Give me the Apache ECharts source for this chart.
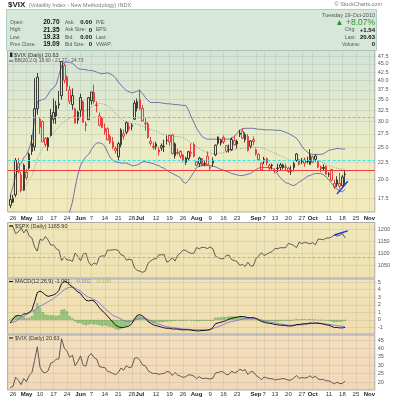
<!DOCTYPE html>
<html><head><meta charset="utf-8">
<script src="https://cdn.jsdelivr.net/npm/echarts@6/dist/echarts.min.js"></script>
<style>html,body{margin:0;padding:0;background:#fff;overflow:hidden}#c{width:400px;height:400px}</style>
</head><body><div id="c"></div>
<script>
// ---------- trading-day categories (Apr 22 .. Nov 3, 2010) ----------
const aprDays=[22,23,26,27,28,29,30];
const mayDays=[3,4,5,6,7,10,11,12,13,14,17,18,19,20,21,24,25,26,27,28];
const junDays=[1,2,3,4,7,8,9,10,11,14,15,16,17,18,21,22,23,24,25,28,29,30];
const julDays=[1,2,6,7,8,9,12,13,14,15,16,19,20,21,22,23,26,27,28,29,30];
const augDays=[2,3,4,5,6,9,10,11,12,13,16,17,18,19,20,23,24,25,26,27,30,31];
const sepDays=[1,2,3,7,8,9,10,13,14,15,16,17,20,21,22,23,24,27,28,29,30];
const octDays=[1,4,5,6,7,8,11,12,13,14,15,18,19,20,21,22,25,26,27,28,29];
const novDays=[1,2,3];
const firstDataDay='04-23';

// ---------- x tick labels ----------
const xTickDates=['04-26','05-03','05-10','05-17','05-24','06-01','06-07','06-14','06-21','06-28','07-01','07-12','07-19','07-26','08-02','08-09','08-16','08-23','09-01','09-07','09-13','09-20','09-27','10-01','10-11','10-18','10-25','11-01'];
const xTickLabels=['26','May','10','17','24','Jun','7','14','21','28','Jul','12','19','26','Aug','9','16','23','Sep','7','13','20','27','Oct','11','18','25','Nov'];
const monthNames=['May','Jun','Jul','Aug','Sep','Oct','Nov'];

// ---------- $VIX daily OHLC (Apr 23 .. Oct 19) ----------
const vixOpen=[17.3,17.0,17.9,22.3,20.6,18.5,
21.0,21.6,24.3,25.1,32.9,30.5,30.0,26.6,25.1,27.2,30.5,31.2,34.0,36.0,44.5,41.0,37.5,33.8,32.8,30.3,
32.5,34.5,29.2,30.4,34.7,36.8,33.6,31.2,30.7,27.9,28.5,27.0,26.0,24.8,23.4,25.5,27.5,27.8,28.9,29.2,30.5,33.0,
35.0,32.9,29.5,29.5,26.1,25.2,25.6,24.2,25.3,25.2,26.3,27.2,27.3,23.6,24.0,24.3,23.7,22.5,23.1,24.0,25.5,
22.6,22.3,23.1,22.3,23.5,21.6,22.8,23.7,26.9,25.8,26.8,25.3,24.6,24.6,26.2,25.6,27.4,28.0,26.4,27.0,25.2,26.4,
24.6,23.8,22.4,22.7,23.1,21.6,22.1,21.2,21.6,22.1,21.7,21.8,21.6,21.1,21.7,22.8,22.9,22.6,22.9,22.6,22.2,
23.4,23.0,22.6,21.8,21.7,21.9,20.7,21.4,19.4,19.3,19.4,20.3,20.70];
const vixHigh=[17.9,17.9,23.2,23.2,21.1,22.3,
21.5,24.1,27.3,40.7,42.2,31.0,30.2,26.9,26.9,32.8,35.3,34.7,37.2,45.9,45.2,41.5,38.6,37.9,33.1,32.4,
36.5,34.8,30.0,35.6,37.0,38.9,34.6,32.0,31.0,29.6,28.8,27.4,26.9,25.2,26.0,28.6,28.4,30.0,29.7,29.6,34.8,35.3,
37.6,33.7,30.8,29.9,26.9,25.9,26.0,25.1,25.7,26.4,27.2,27.3,27.5,25.9,24.8,24.5,23.8,23.4,24.4,25.7,25.9,
22.7,23.4,23.2,22.8,24.3,22.0,23.3,25.5,27.0,26.5,27.2,25.4,25.5,26.8,27.2,26.4,28.3,28.6,27.8,27.5,26.3,27.0,
24.8,24.0,22.5,23.4,23.3,22.3,22.3,21.6,22.3,22.4,22.3,22.3,21.8,22.0,22.6,24.0,23.0,23.2,23.3,23.4,24.7,
23.6,23.8,22.7,22.0,22.2,22.0,21.0,21.5,19.9,20.4,20.9,20.6,21.35];
const vixLow=[16.3,16.9,17.6,20.8,18.2,18.4,
19.9,21.4,23.7,24.4,31.5,27.5,26.0,25.1,24.4,27.0,29.6,29.5,32.8,35.0,39.3,37.2,33.9,32.6,29.6,29.5,
31.0,29.8,28.0,30.3,33.8,34.0,32.0,29.0,28.6,27.3,26.3,25.6,24.7,23.9,22.7,25.0,26.4,27.4,28.0,28.2,30.3,32.2,
32.5,30.0,28.1,26.6,25.3,24.6,24.6,23.6,24.4,24.2,25.5,25.3,23.8,23.1,23.7,23.1,22.6,22.1,22.8,23.4,23.3,
21.9,21.8,21.9,21.9,22.0,21.3,21.8,23.5,25.4,25.3,25.6,24.1,24.1,24.4,25.3,24.8,26.9,26.5,25.9,24.3,24.8,25.4,
23.6,22.7,21.2,22.2,22.0,21.3,21.4,20.8,21.0,21.3,21.4,21.3,20.9,20.6,21.1,22.6,22.0,22.2,21.8,22.3,22.1,
22.4,22.6,21.6,21.0,21.2,20.6,20.3,19.7,18.6,18.9,18.7,19.0,19.33];
const vixClose=[16.62,17.47,22.81,21.08,18.44,22.05,
20.19,23.84,25.66,32.80,40.95,28.84,26.00,25.52,26.68,31.24,31.96,33.55,33.74,45.79,40.10,38.32,34.61,36.00,29.68,32.07,
35.54,29.86,29.46,35.48,36.93,34.51,33.70,29.21,28.79,28.58,26.36,25.87,25.05,24.46,25.66,28.28,27.05,29.74,28.53,29.00,34.13,34.54,
32.86,30.12,29.65,26.84,25.71,24.98,25.16,24.56,24.89,25.14,26.25,25.97,23.93,25.64,24.13,23.47,22.73,23.19,24.25,24.13,23.50,
22.01,23.19,22.01,22.21,22.14,21.74,22.37,25.39,25.73,26.24,25.99,24.33,24.59,26.44,25.49,26.10,27.66,26.70,27.37,24.45,26.17,26.05,
23.89,22.93,21.31,23.00,22.40,21.99,21.99,21.21,21.56,21.72,22.10,21.66,21.09,21.22,22.30,23.87,22.21,22.64,22.37,22.64,23.70,
22.50,23.53,21.76,21.49,21.56,20.71,20.71,19.85,18.93,19.88,19.03,19.09,20.63];

// ---------- Bollinger Bands (20,2.0) ----------
const bbUpper=[17.8,19.0,20.6,21.8,22.3,23.3,23.7,24.8,26.5,30.5,34.5,
34.8,35.0,35.3,36.3,37.5,38.0,39.0,41.5,44.5,45.5,
45.6,45.5,45.2,44.5,43.6,43.4,43.3,43.2,43.0,43.0,
42.8,42.5,42.2,42.0,42.1,42.3,42.0,41.5,40.8,39.6,
38.8,38.0,37.3,37.0,36.7,36.9,37.2,37.3,36.5,35.6,
34.8,34.3,34.3,34.3,34.3,34.2,34.1,34.0,34.0,33.9,
33.8,33.8,33.7,33.6,33.6,32.5,31.0,29.8,28.6,27.8,
27.0,26.7,26.5,26.5,26.5,26.5,26.5,26.5,26.5,26.5,
26.5,26.7,27.0,27.6,28.2,28.5,28.6,28.6,28.6,28.6,
28.5,28.4,28.4,28.3,28.3,28.3,28.3,28.2,28.2,28.2,
28.0,27.8,27.6,27.3,27.0,26.7,26.0,25.2,24.6,24.2,
23.9,23.8,23.8,23.8,23.8,23.9,24.2,24.5,24.6,24.7,
24.8,24.8,24.7,24.73];
const bbMid=[17.6,17.8,18.1,18.4,18.6,19.0,19.3,19.9,20.5,21.6,23.1,
24.1,24.9,25.6,26.4,27.1,27.7,28.3,28.9,29.6,30.0,
30.4,30.7,31.0,31.2,31.5,32.0,32.2,32.4,32.7,33.2,
33.6,34.0,34.1,34.0,33.8,33.5,33.0,32.4,31.8,31.1,
30.6,30.2,30.0,29.8,29.6,29.5,29.4,29.2,29.0,28.8,
28.6,28.4,28.2,28.0,27.8,27.5,27.4,27.3,27.2,27.1,
27.0,27.0,26.9,26.8,26.5,26.1,25.8,25.5,25.1,24.8,
24.5,24.3,24.1,24.0,23.9,23.9,24.0,24.0,24.1,24.2,
24.3,24.5,24.6,24.7,24.8,24.8,24.9,24.9,25.0,25.0,
25.0,25.0,24.9,24.8,24.6,24.4,24.2,24.0,23.8,23.6,
23.4,23.2,23.0,22.8,22.8,22.8,22.8,22.8,22.8,22.8,
22.8,22.8,22.8,22.7,22.6,22.4,22.2,22.0,21.9,21.7,
21.6,21.5,21.4,21.27];
const bbLower=[15.4,15.3,14.9,14.6,14.7,14.3,14.5,14.2,13.6,12.0,11.0,
11.5,11.8,12.0,12.1,12.2,12.4,12.6,12.8,13.0,13.4,
14.2,15.9,17.0,18.8,20.6,22.0,22.8,23.4,23.8,24.6,
25.3,25.8,25.8,25.7,25.2,24.2,23.3,22.8,22.6,22.5,
22.4,22.4,22.4,22.2,22.0,22.0,22.1,22.3,22.6,22.6,
22.5,22.4,22.3,22.1,22.0,21.7,21.6,21.3,21.0,20.8,
20.6,20.4,20.2,19.6,19.4,19.8,20.4,21.0,21.7,21.9,
22.0,22.0,22.0,22.0,21.9,21.8,21.6,21.4,21.3,21.1,
21.0,20.8,20.7,20.6,20.5,20.5,20.6,20.7,20.8,21.1,
21.4,21.6,21.7,21.7,21.7,21.7,21.6,21.3,20.7,20.2,
19.8,19.5,19.4,19.2,19.1,19.3,19.6,19.8,20.1,20.4,
20.5,20.7,20.8,20.8,20.8,20.6,20.3,19.9,19.4,19.0,
18.6,18.4,18.3,18.60];

// ---------- $SPX daily close ----------
const spxClose=[1217.28,1212.05,1183.71,1191.36,1206.78,1186.69,
1202.26,1173.60,1165.90,1128.15,1110.88,1159.73,1155.79,1171.67,1157.44,1135.68,1136.94,1120.80,1115.05,1071.59,1087.69,1073.65,1074.03,1067.95,1103.06,1089.41,
1070.71,1098.38,1102.83,1064.88,1050.47,1062.00,1055.69,1086.84,1091.60,1089.63,1115.23,1114.61,1116.04,1117.51,1113.20,1095.31,1092.04,1073.69,1076.76,1074.57,1041.24,1030.71,
1027.37,1022.58,1028.06,1060.27,1070.25,1077.96,1078.75,1095.34,1095.17,1096.48,1064.88,1071.25,1083.48,1069.59,1093.67,1102.66,1115.01,1113.84,1106.13,1101.53,1101.60,
1125.86,1120.46,1127.24,1125.81,1121.64,1127.79,1121.06,1089.47,1083.61,1079.25,1079.38,1092.54,1094.16,1075.63,1071.69,1067.36,1051.87,1055.33,1047.22,1064.59,1048.92,1049.33,
1080.29,1090.10,1104.51,1091.84,1098.87,1104.18,1109.55,1121.90,1121.10,1125.07,1124.66,1125.59,1142.71,1139.78,1134.28,1124.83,1148.67,1142.16,1147.70,1144.73,1141.20,
1146.24,1137.03,1160.75,1159.97,1158.06,1165.15,1165.32,1169.77,1178.10,1173.81,1176.19,1184.71,1165.90];

// ---------- MACD(12,26,9) ----------
const macdLine=[-0.4,0.1,0.5,0.6,0.5,0.8,0.8,1.0,1.3,2.4,3.6,
3.8,3.6,3.3,3.1,3.2,3.3,3.5,3.9,4.8,5.1,
5.0,4.6,4.4,4.0,3.7,3.5,3.0,2.6,2.5,2.6,
2.5,2.1,1.6,1.2,0.9,0.5,0.1,-0.3,-0.7,-0.9,
-1.0,-1.0,-0.9,-0.8,-0.5,0.1,0.6,0.7,0.5,0.2,
-0.2,-0.45,-0.65,-0.75,-0.85,-0.95,-1.05,-1.1,-1.1,-1.2,
-1.2,-1.2,-1.3,-1.3,-1.3,-1.3,-1.35,-1.4,-1.45,-1.45,
-1.4,-1.4,-1.35,-1.3,-1.0,-0.5,-0.4,-0.3,-0.2,-0.1,
0.1,0.2,0.3,0.35,0.45,0.45,0.4,0.3,0.3,0.3,
0.2,0.0,-0.2,-0.3,-0.4,-0.45,-0.5,-0.6,-0.65,-0.7,
-0.7,-0.75,-0.8,-0.8,-0.75,-0.6,-0.6,-0.55,-0.5,-0.5,
-0.4,-0.45,-0.4,-0.45,-0.5,-0.55,-0.65,-0.7,-0.85,-1.0,
-1.0,-1.05,-1.05,-1.001];
const macdSignal=[-0.4,-0.3,-0.2,0.1,0.3,0.5,0.7,0.9,1.1,1.3,1.6,
1.8,2.0,2.2,2.4,2.6,2.8,3.1,3.4,3.7,4.0,
4.2,4.3,4.3,4.2,4.0,3.8,3.5,3.2,3.0,2.9,
2.7,2.5,2.2,1.9,1.5,1.2,0.9,0.6,0.45,0.3,
0.1,-0.1,-0.2,-0.2,-0.15,-0.05,0.1,0.2,0.3,0.2,
0.05,-0.1,-0.3,-0.45,-0.55,-0.65,-0.8,-0.9,-0.95,-1.0,
-1.05,-1.1,-1.15,-1.2,-1.2,-1.25,-1.25,-1.3,-1.3,-1.3,
-1.3,-1.3,-1.28,-1.25,-1.15,-1.0,-0.9,-0.75,-0.6,-0.45,
-0.3,-0.2,-0.15,-0.05,0.0,0.1,0.15,0.2,0.2,0.2,
0.15,0.1,0.0,-0.1,-0.2,-0.3,-0.35,-0.4,-0.45,-0.55,
-0.6,-0.65,-0.7,-0.7,-0.7,-0.7,-0.65,-0.65,-0.6,-0.55,
-0.5,-0.45,-0.45,-0.4,-0.45,-0.5,-0.55,-0.6,-0.65,-0.7,
-0.75,-0.8,-0.85,-0.902];
const macdHist=[0.0,0.3,0.6,0.5,0.3,0.4,0.2,0.3,0.5,1.3,2.2,
1.6,1.0,0.7,0.6,0.6,0.6,0.5,0.6,1.3,1.4,
1.1,0.5,0.2,-0.2,-0.4,-0.4,-0.6,-0.7,-0.6,-0.5,
-0.6,-0.6,-0.7,-0.8,-0.7,-0.8,-0.9,-1.0,-1.2,-1.3,
-1.2,-1.0,-0.8,-0.6,-0.3,0.2,0.5,0.5,0.3,0.1,
-0.2,-0.3,-0.4,-0.3,-0.3,-0.3,-0.25,-0.2,-0.15,-0.15,
-0.1,-0.1,-0.1,-0.1,-0.1,-0.05,-0.1,-0.1,-0.15,-0.15,
-0.1,-0.1,-0.1,-0.1,-0.1,0.3,0.3,0.35,0.4,0.35,
0.45,0.45,0.45,0.4,0.45,0.35,0.3,0.1,0.1,0.1,
0.05,-0.1,-0.2,-0.2,-0.2,-0.15,-0.15,-0.2,-0.2,-0.15,
-0.1,-0.1,-0.1,-0.1,-0.05,0.1,0.05,0.1,0.1,0.05,
0.1,0.0,0.05,-0.05,-0.05,-0.05,-0.1,-0.1,-0.2,-0.3,
-0.25,-0.25,-0.2,-0.100];

// ---------- axis ticks & reference levels ----------
const vixTicks=[17.5,20,22.5,25,27.5,30,32.5,35,37.5,40,42.5,45,47.5];
const spxTicks=[1050,1100,1150,1200];
const macdTicks=[-1,0,1,2,3,4,5];
const vixLineTicks=[20,25,30,35,40,45];
const vixCyanLevels=[31.0,22.9];
const vixRedLevel=21.3;
const spxCyanLevel=1085;
const vixTrend=[['10-14',18.0],['10-20',19.7]];
const spxTrend=[['10-13',1178],['10-20',1195]];

// ================= build =================
const categories=[];
[['04',aprDays],['05',mayDays],['06',junDays],['07',julDays],['08',augDays],['09',sepDays],['10',octDays],['11',novDays]]
  .forEach(([m,ds])=>ds.forEach(d=>categories.push(m+'-'+String(d).padStart(2,'0'))));
const OFF=categories.indexOf(firstDataDay);
const pad=a=>Array(OFF).fill('-').concat(a);
const labelMap={};xTickDates.forEach((d,i)=>labelMap[d]=xTickLabels[i]);
const tickIdx=new Set(xTickDates.map(d=>categories.indexOf(d)));

const FONT='"Liberation Sans", Arial, sans-serif';
const RED='#e8161c', BLK='#111';

const candleData=pad(vixClose.map((c,i)=>{
  const col=(i===0||c>=vixClose[i-1])?BLK:RED;
  return {value:[vixOpen[i],c,vixLow[i],vixHigh[i]],
    itemStyle:{color:'rgba(255,255,255,0)',borderColor:col,color0:col,borderColor0:col}};
}));

const grids=[
  {top:50.5,height:161.5,bg:[['0','#d3e4d8'],['0.55','#e9ecc8'],['1','#f3e9b8']]},
  {top:222.5,height:55.5,bg:[['0','#f0e6ba'],['1','#efe2b2']]},
  {top:279,height:55,bg:[['0','#f2e4b8'],['1','#f1ddb0']]},
  {top:335,height:55,bg:[['0','#f4dec0'],['1','#f2d8b8']]}
].map(g=>({left:7.6,right:25.2,top:g.top,height:g.height,show:true,borderColor:'#9a9a9a',borderWidth:0.8,
  backgroundColor:{type:'linear',x:0,y:0,x2:0,y2:1,colorStops:g.bg.map(s=>({offset:+s[0],color:s[1]}))}}));

const xLabel={show:true,interval:(i)=>tickIdx.has(i),fontSize:6,color:'#333',fontFamily:FONT,margin:3,
  formatter:v=>{const t=labelMap[v]||'';return monthNames.includes(t)?'{m|'+t+'}':t;},
  rich:{m:{fontWeight:'bold',fontSize:6,color:'#222',fontFamily:FONT}}};
const xAxes=[0,1,2,3].map(k=>({type:'category',gridIndex:k,data:categories,boundaryGap:false,
  axisLine:{show:false},axisTick:{show:false},
  axisLabel:(k===0||k===3)?Object.assign({},xLabel,{margin:k===0?3:1.5}):{show:false},
  splitLine:{show:true,interval:(i)=>tickIdx.has(i),lineStyle:{color:'rgba(110,120,110,0.22)',width:0.6}}}));
const hiddenY={axisLabel:{show:false},axisLine:{show:false},axisTick:{show:false},splitLine:{show:false}};
const yAxes=[
  Object.assign({type:'log',logBase:10,gridIndex:0,min:15.86,max:49.48},hiddenY),
  Object.assign({type:'value',gridIndex:1,min:999,max:1230},hiddenY),
  Object.assign({type:'value',gridIndex:2,min:-1.86,max:5.4},hiddenY),
  Object.assign({type:'value',gridIndex:3,min:15.24,max:47.98},hiddenY)
];

function tickSeries(k,ticks,fmt,host){
  return {type:'line',xAxisIndex:k,yAxisIndex:k,data:pad(host),z:1,clip:false,silent:true,symbol:'none',
    lineStyle:{opacity:0},
    markLine:{silent:true,symbol:['none','none'],animation:false,
      lineStyle:{color:'rgba(110,120,110,0.25)',width:0.6,type:'solid'},
      label:{show:true,position:'end',formatter:'{b}',fontSize:5.5,color:'#555',fontFamily:FONT,distance:3},
      data:ticks.map(v=>({yAxis:v,name:fmt(v)}))}};
}
function refSeries(k,host,lines){
  return {type:'line',xAxisIndex:k,yAxisIndex:k,data:pad(host),z:5,clip:false,silent:true,symbol:'none',
    lineStyle:{opacity:0},
    markLine:{silent:true,symbol:['none','none'],animation:false,label:{show:false},data:lines}};
}
const cyan={color:'#35e0e6',width:1,type:[3,2]};
const series=[
  tickSeries(0,vixTicks,v=>v.toFixed(1),bbMid),
  tickSeries(1,spxTicks,v=>String(v),spxClose),
  tickSeries(2,macdTicks,v=>String(v),macdLine),
  tickSeries(3,vixLineTicks,v=>String(v),vixClose),
  {type:'line',xAxisIndex:0,yAxisIndex:0,data:pad(bbUpper),symbol:'none',lineStyle:{color:'#6464a8',width:0.9},z:2},
  {type:'line',xAxisIndex:0,yAxisIndex:0,data:pad(bbLower),symbol:'none',lineStyle:{color:'#6464a8',width:0.9},z:2,clip:true},
  {type:'line',xAxisIndex:0,yAxisIndex:0,data:pad(bbMid),symbol:'none',lineStyle:{color:'#8a8a8a',width:0.9,type:[1,1.5]},z:2},
  {type:'candlestick',xAxisIndex:0,yAxisIndex:0,data:candleData,barWidth:2,z:3,itemStyle:{borderWidth:0.8}},
  refSeries(0,bbMid,[
    ...vixCyanLevels.map(v=>({yAxis:v,lineStyle:cyan})),
    {yAxis:vixRedLevel,lineStyle:{color:'#f03c3c',width:1.2,type:'solid'}},
    [{coord:vixTrend[0]},{coord:vixTrend[1],lineStyle:{color:'#1f2ff0',width:1.3,type:'solid'}}]
  ]),
  {type:'line',xAxisIndex:1,yAxisIndex:1,data:pad(spxClose),symbol:'none',lineStyle:{color:'#3a3a3a',width:0.8},z:3},
  refSeries(1,spxClose,[
    {yAxis:spxCyanLevel,lineStyle:cyan},
    [{coord:spxTrend[0]},{coord:spxTrend[1],lineStyle:{color:'#1f2ff0',width:1.4,type:'solid'}}]
  ]),
  {type:'bar',xAxisIndex:2,yAxisIndex:2,data:pad(macdHist),barWidth:2.2,z:2,
    itemStyle:{color:'#9ccf82',borderColor:'#5a9a48',borderWidth:0.4}},
  {type:'line',xAxisIndex:2,yAxisIndex:2,data:pad(macdSignal),symbol:'none',lineStyle:{color:'#7a72e0',width:0.9},z:3},
  {type:'line',xAxisIndex:2,yAxisIndex:2,data:pad(macdLine),symbol:'none',lineStyle:{color:'#111',width:1},z:4},
  {type:'line',xAxisIndex:3,yAxisIndex:3,data:pad(vixClose),symbol:'none',lineStyle:{color:'#3a3a3a',width:0.8},z:3}
];

// ---------- decorative texts ----------
function T(x,y,text,size,fill,o){o=o||{};
  return {type:'text',x:x,y:y,silent:true,z:100,style:{text:text,fill:fill,
    font:(o.bold?'bold ':'')+size+'px '+FONT,textAlign:o.align||'left',textVerticalAlign:'middle'}};}
function R(text,x,y,rich){return {type:'text',x:x,y:y,silent:true,z:100,style:{text:text,textVerticalAlign:'middle',rich:rich}};}
function swatch(x,y,color){return {type:'line',silent:true,z:100,shape:{x1:x,y1:y,x2:x+4,y2:y},style:{stroke:color,lineWidth:1.2}};}
const rs=(size,fill,bold)=>({fontSize:size,fontFamily:FONT,fontWeight:bold?'bold':'normal',fill:fill,color:fill});
const LS=5, VS=6.5, VS2=6;

const graphics=[
  {type:'rect',silent:true,z:90,shape:{x:6.5,y:9.5,width:370,height:41},style:{fill:'#d5e8d9',stroke:'#a9c3b2',lineWidth:0.8}},
  R('{a|$VIX} {b|(Volatility Index - New Methodology) INDX}',8,5,{a:rs(8,'#222',true),b:rs(5.5,'#777')}),
  T(382,4,'\u00a9 StockCharts.com',5.5,'#777',{align:'right'}),
  // left info
  T(10,22.5,'Open:',LS,'#555'),T(10,30,'High:',LS,'#555'),T(10,37.5,'Low:',LS,'#555'),T(10,44.5,'Prev Close:',LS,'#555'),
  T(59.5,22.5,'20.70',VS,'#111',{bold:1,align:'right'}),T(59.5,30,'21.35',VS,'#111',{bold:1,align:'right'}),
  T(59.5,37.5,'19.33',VS,'#111',{bold:1,align:'right'}),T(59.5,44.5,'19.09',VS,'#111',{bold:1,align:'right'}),
  T(65,22.5,'Ask:',LS,'#555'),T(65,30,'Ask Size:',LS,'#555'),T(65,37.5,'Bid:',LS,'#555'),T(65,44.5,'Bid Size:',LS,'#555'),
  T(92,22.5,'0.00',VS2,'#111',{bold:1,align:'right'}),T(92,30,'0',VS2,'#111',{bold:1,align:'right'}),
  T(92,37.5,'0.00',VS2,'#111',{bold:1,align:'right'}),T(92,44.5,'0',VS2,'#111',{bold:1,align:'right'}),
  T(96,22.5,'P/E:',LS,'#555'),T(96,30,'EPS:',LS,'#555'),T(96,37.5,'Last:',LS,'#555'),T(96,44.5,'VWAP:',LS,'#555'),
  // right info
  T(375,15,'Tuesday 19-Oct-2010',LS+0.5,'#555',{align:'right'}),
  T(375,22.5,'\u25B2 +8.07%',8.5,'#2e962e',{align:'right'}),
  T(345,30,'Chg:',LS,'#555'),T(375,30,'+1.54',6,'#111',{bold:1,align:'right'}),
  T(345,37.5,'Last:',LS,'#555'),T(375,37.5,'20.63',6,'#111',{bold:1,align:'right'}),
  T(342,44.5,'Volume:',LS,'#555'),T(375,44.5,'0',6,'#111',{bold:1,align:'right'}),
  // panel legends
  {type:'rect',silent:true,z:100,shape:{x:10,y:52.5,width:2.4,height:4.5},style:{fill:'#222'}},
  T(14,55,'$VIX (Daily) 20.63',5.5,'#333'),
  swatch(9,61,'#5a5aa0'),T(14.5,61,'BB(20,2.0) 18.60 - 21.27 - 24.73',4.8,'#555'),
  swatch(9,226,'#222'),T(15,226,'$SPX (Daily) 1165.90',5.5,'#333'),
  swatch(9,281.5,'#222'),
  R('{a|MACD(12,26,9) -1.001,} {b|-0.902,} {c|-0.100}',15,281.5,{a:rs(5.5,'#333'),b:rs(5.5,'#8a84e0'),c:rs(5.5,'#8ac870')}),
  swatch(9,338,'#222'),T(15,338,'$VIX (Daily) 20.63',5.5,'#333')
];

const chart=echarts.init(document.getElementById('c'),null,{renderer:'canvas'});
chart.setOption({animation:false,backgroundColor:'#fff',grid:grids,xAxis:xAxes,yAxis:yAxes,series:series,graphic:graphics});
</script></body></html>
